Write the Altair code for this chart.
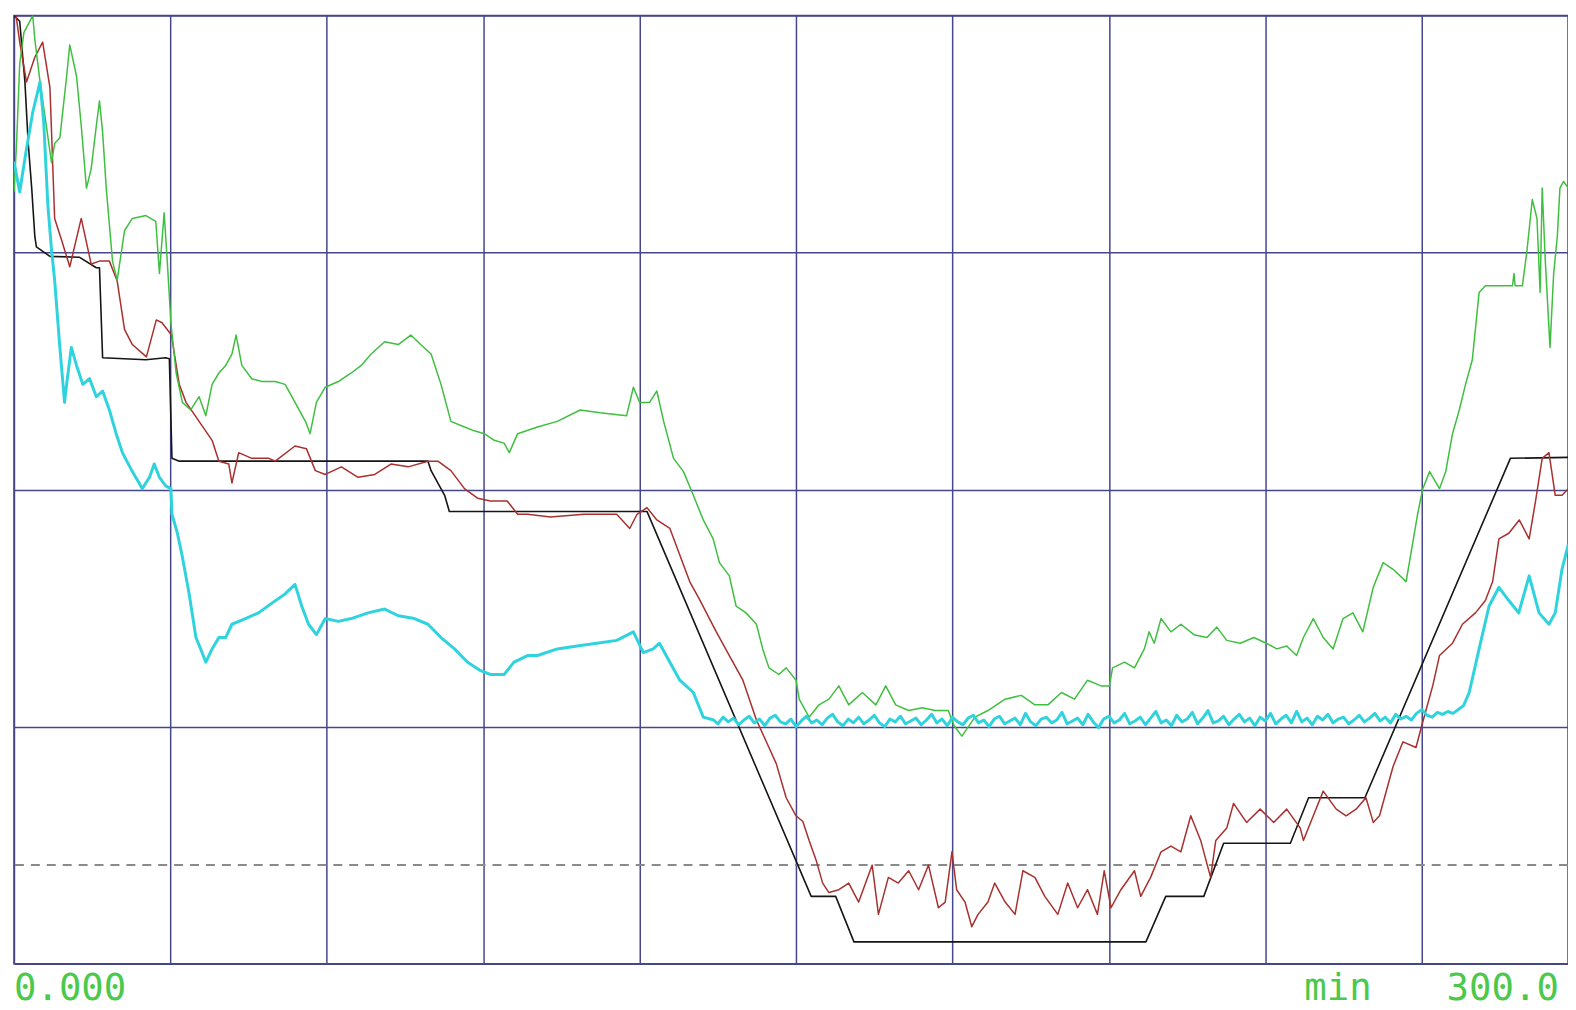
import altair as alt
import pandas as pd

# time axis in minutes (0 .. 300, visible part ends near 298), value axis 0..100 (4 divisions)
X_MAX = 298.05
x_grid = [0, 30, 60, 90, 120, 150, 180, 210, 240, 270]
y_grid = [0, 25, 50, 75, 100]
dash_level = [10.4]

black_t = [0, 1.1, 1.7, 2.1, 2.7, 3.4, 4.0, 4.3, 6.9, 12.6, 15.8, 16.4, 17.0, 25.3, 29.1, 29.8, 30.3, 31.7,
           79.4, 80.0, 82.6, 83.5, 121.4, 152.9, 157.6, 161.1, 217.1, 220.9, 228.2, 232.0, 244.8, 248.3,
           259.1, 287.0, 298.1]
black_v = [100, 99.4, 95.5, 93.0, 86.8, 81.8, 76.7, 75.6, 74.6, 74.5, 73.4, 73.4, 63.9, 63.7, 63.9, 63.8, 53.3, 53.0,
           53.0, 52.0, 49.4, 47.7, 47.7, 7.1, 7.1, 2.3, 2.3, 7.1, 7.1, 12.7, 12.7, 17.5,
           17.5, 53.3, 53.4]

red_t = [0.4, 1.1, 2.4, 4.0, 5.5, 6.9, 7.8, 9.2, 10.7, 12.9,
         14.8, 16.4, 18.3, 19.8, 21.2, 22.7, 25.4, 27.3, 28.4, 30.2,
         31.7, 33.0, 35.5, 38.0, 39.3, 41.2, 41.8, 43.1, 45.6, 48.9,
         50.1, 53.9, 56.1, 57.8, 59.7, 62.8, 66.0, 69.2, 72.3, 75.6,
         79.4, 81.3, 83.8, 86.4, 88.9, 91.4, 94.6, 96.6, 98.5, 102.9,
         109.3, 115.6, 118.1, 119.5, 121.4, 123.3, 125.8, 129.6, 131.5, 134.7,
         137.2, 139.8, 142.4, 144.8, 146.2, 148.1, 150.0, 151.3, 152.5, 153.8,
         155.1, 156.3, 158.2, 160.1, 162.0, 164.6, 165.8, 167.7, 169.6, 171.6,
         173.5, 175.4, 177.3, 178.6, 179.9, 180.8, 182.4, 183.7, 184.9, 186.8,
         188.1, 190.1, 192.0, 193.5, 195.8, 197.7, 200.2, 202.1, 204.0, 205.9,
         207.8, 209.1, 210.4, 212.3, 214.9, 216.1, 218.0, 220.0, 221.9, 223.8,
         225.7, 227.6, 229.5, 230.5, 232.6, 233.9, 236.4, 239.0, 241.6, 244.1,
         246.7, 247.3, 249.2, 251.1, 253.6, 255.5, 257.4, 259.3, 260.7, 261.9,
         264.5, 266.4, 268.9, 269.8, 270.8, 272.1, 273.4, 275.9, 277.8, 280.3,
         282.2, 283.6, 284.8, 286.7, 288.7, 290.6, 291.8, 293.1, 294.4, 295.6,
         296.9, 298.1]
red_v = [100.0, 97.2, 93.0, 95.6, 97.2, 92.4, 78.6, 76.2, 73.5, 78.6,
         73.8, 74.1, 74.1, 72.0, 66.9, 65.3, 64.0, 67.9, 67.6, 66.3,
         61.1, 59.2, 57.2, 55.2, 53.0, 52.7, 50.7, 53.9, 53.3, 53.3,
         53.0, 54.6, 54.3, 52.0, 51.6, 52.4, 51.3, 51.6, 52.7, 52.4,
         53.0, 53.0, 52.0, 50.1, 49.1, 48.8, 48.8, 47.4, 47.4, 47.1,
         47.4, 47.4, 45.9, 47.4, 48.1, 46.8, 45.9, 40.3, 38.4, 35.0,
         32.5, 29.9, 25.7, 22.8, 21.1, 17.5, 15.6, 15.0, 13.0, 11.0,
         8.5, 7.5, 7.8, 8.5, 6.5, 10.4, 5.2, 9.1, 8.5, 9.8,
         7.8, 10.4, 5.9, 6.5, 11.8, 7.8, 6.5, 3.9, 5.2, 6.5,
         8.5, 6.5, 5.2, 9.8, 9.1, 7.1, 5.2, 8.5, 5.9, 7.8,
         5.2, 9.8, 5.9, 7.8, 9.8, 7.1, 9.1, 11.8, 12.4, 11.8,
         15.6, 13.0, 9.1, 13.0, 14.3, 16.9, 14.9, 16.3, 14.9, 16.3,
         14.3, 13.0, 15.6, 18.2, 16.3, 15.6, 16.3, 17.5, 14.9, 15.6,
         20.8, 23.4, 22.8, 24.7, 26.7, 29.3, 32.5, 33.8, 35.8, 37.0,
         38.3, 40.3, 44.8, 45.4, 46.8, 44.8, 48.7, 53.3, 53.9, 49.4,
         49.4, 50.1]

green_t = [0, 0.5, 1.1, 1.9, 3.6, 4.0, 5.0, 6.2, 7.2, 7.8,
           8.8, 10.1, 10.7, 12.0, 12.9, 13.9, 14.8, 15.8, 16.4, 17.0,
           17.7, 18.9, 19.8, 21.2, 22.7, 25.3, 27.2, 27.9, 28.8, 29.4,
           30.1, 31.1, 32.3, 33.9, 35.5, 36.8, 38.0, 39.3, 40.6, 41.8,
           42.6, 43.7, 45.6, 47.5, 50.1, 52.0, 53.9, 55.9, 56.8, 58.0,
           59.7, 62.2, 64.7, 66.6, 68.5, 71.1, 73.7, 76.1, 78.0, 80.0,
           81.9, 83.8, 86.4, 88.3, 90.2, 92.1, 94.0, 95.0, 96.6, 100.4,
           104.2, 108.6, 112.4, 117.5, 118.8, 120.0, 121.9, 123.3, 124.6, 126.5,
           128.4, 130.3, 132.2, 134.1, 135.3, 137.2, 138.5, 140.4, 142.4, 143.6,
           144.8, 146.7, 148.1, 150.0, 150.6, 152.5, 154.4, 156.3, 158.2, 160.1,
           162.7, 165.3, 167.2, 169.1, 171.6, 174.2, 176.7, 179.2, 180.3, 181.8,
           184.3, 186.8, 190.1, 193.2, 195.8, 198.3, 200.9, 203.4, 205.9, 208.5,
           210.1, 210.7, 213.0, 214.9, 216.8, 217.7, 218.7, 220.0, 221.9, 223.8,
           226.3, 228.8, 230.7, 232.6, 235.2, 237.8, 240.2, 242.2, 244.1, 246.0,
           247.3, 249.2, 251.1, 253.0, 254.9, 256.8, 258.7, 260.7, 262.6, 264.5,
           267.0, 269.2, 270.2, 271.5, 273.4, 274.6, 275.9, 277.2, 278.4, 279.7,
           281.0, 282.2, 287.4, 287.7, 287.9, 289.3, 290.2, 291.2, 292.1, 292.7,
           293.1, 293.7, 294.6, 295.3, 296.0, 296.5, 297.2, 298.1]
green_v = [81.4, 86.5, 94.9, 98.2, 100.0, 97.5, 93.0, 88.4, 84.5, 86.5,
           87.1, 93.6, 96.9, 93.6, 88.4, 81.8, 83.8, 88.4, 91.0, 87.7,
           81.8, 74.1, 72.1, 77.3, 78.6, 78.9, 78.3, 72.8, 79.2, 74.1,
           67.6, 62.3, 59.2, 58.4, 59.8, 57.8, 61.1, 62.3, 63.1, 64.3,
           66.3, 63.1, 61.7, 61.4, 61.4, 61.1, 59.2, 57.2, 55.9, 59.2,
           60.8, 61.4, 62.3, 63.1, 64.3, 65.6, 65.3, 66.3, 65.3, 64.3,
           61.1, 57.2, 56.6, 56.2, 55.9, 55.2, 54.9, 53.9, 55.9, 56.6,
           57.2, 58.4, 58.1, 57.8, 60.8, 59.2, 59.2, 60.4, 57.2, 53.3,
           51.9, 49.4, 46.8, 44.8, 42.3, 40.9, 37.7, 37.0, 35.8, 33.2,
           31.2, 30.5, 31.2, 29.9, 27.9, 26.0, 27.3, 27.9, 29.3, 27.3,
           28.6, 27.3, 29.3, 27.3, 26.7, 27.0, 26.7, 26.7, 25.1, 24.0,
           26.0, 26.7, 27.9, 28.3, 27.3, 27.3, 28.6, 27.9, 29.9, 29.3,
           29.3, 31.2, 31.8, 31.2, 33.2, 35.0, 33.8, 36.4, 35.0, 35.8,
           34.7, 34.4, 35.5, 34.1, 33.8, 34.4, 33.8, 33.2, 33.5, 32.5,
           34.4, 36.4, 34.4, 33.2, 36.4, 37.0, 35.0, 39.7, 42.3, 41.6,
           40.3, 47.4, 50.1, 51.9, 50.1, 51.9, 55.9, 58.4, 61.1, 63.7,
           70.8, 71.5, 71.5, 72.8, 71.5, 71.5, 75.3, 80.6, 78.6, 70.8,
           81.8, 74.1, 65.0, 72.8, 76.7, 81.8, 82.5, 81.8]

cyan_head_t = [0, 1.1, 2.3, 3.6, 5.0, 5.7, 6.5, 7.2, 7.8, 8.8,
               9.7, 10.1, 11.0, 12.0, 13.2, 14.5, 15.8, 17.0, 18.3, 19.6,
               20.8, 22.7, 24.0, 24.6, 26.0, 26.9, 27.9, 29.1, 30.1, 30.3,
               31.3, 32.3, 33.6, 34.9, 35.8, 36.8, 38.0, 39.3, 40.6, 41.8,
               44.4, 46.9, 49.4, 52.0, 53.9, 55.2, 56.5, 58.0, 59.7, 62.2,
               64.7, 67.9, 71.1, 73.7, 76.8, 79.4, 81.9, 84.5, 87.0, 89.5,
               91.4, 94.0, 95.9, 98.5, 100.4, 104.2, 108.0, 111.8, 115.6, 118.8,
               120.7, 122.6, 123.8, 125.8, 127.7, 130.3, 132.2, 134.2]
cyan_head_v = [84.6, 81.4, 85.6, 89.8, 93.0, 88.8, 80.0, 75.3, 72.1, 65.0,
               59.2, 61.1, 65.0, 63.1, 61.1, 61.7, 59.8, 60.4, 58.4, 55.9,
               53.9, 51.9, 50.7, 50.1, 51.3, 52.7, 51.3, 50.4, 50.1, 47.4,
               45.5, 42.9, 39.0, 34.4, 33.2, 31.8, 33.2, 34.4, 34.4, 35.8,
               36.4, 37.0, 38.0, 39.0, 40.0, 37.7, 35.8, 34.7, 36.4, 36.1,
               36.4, 37.0, 37.4, 36.7, 36.4, 35.8, 34.4, 33.2, 31.8, 30.9,
               30.5, 30.5, 31.8, 32.5, 32.5, 33.2, 33.5, 33.8, 34.1, 35.0,
               32.8, 33.2, 33.8, 31.8, 29.9, 28.6, 26.0, 25.7]
# flat, noisy part sampled once a minute from 135 to 276 min
cyan_flat_t = list(range(135, 277))
cyan_flat_v = [25.3, 26.0, 25.5, 25.9, 25.2, 25.7, 26.1, 25.4, 25.8, 25.1,
               25.9, 26.2, 25.5, 25.3, 25.8, 25.0, 25.6, 26.1, 25.4, 25.7,
               25.2, 25.9, 26.3, 25.5, 25.1, 25.8, 25.4, 26.0, 25.3, 25.7,
               26.2, 25.4, 25.0, 25.8, 25.5, 26.1, 25.3, 25.6, 25.9, 25.2,
               25.7, 26.3, 25.4, 25.8, 25.1, 26.0, 25.5, 25.2, 25.9, 26.2,
               25.4, 25.7, 25.0, 25.8, 26.1, 25.3, 25.6, 25.9, 25.2, 26.4,
               25.5, 25.1, 25.8, 26.0, 25.4, 25.7, 26.5, 25.3, 25.6, 25.9,
               25.2, 26.3, 25.5, 24.9, 25.8, 26.1, 25.4, 25.7, 26.4, 25.3,
               25.6, 26.0, 25.2, 25.9, 26.6, 25.4, 25.7, 25.1, 26.2, 25.5,
               25.8, 26.5, 25.3, 25.9, 26.7, 25.4, 25.6, 26.1, 25.2, 25.8,
               26.3, 25.5, 25.9, 25.1, 26.0, 25.6, 26.4, 25.3, 25.8, 26.2,
               25.4, 26.6, 25.5, 25.9, 25.2, 26.1, 25.7, 26.3, 25.4, 25.8,
               26.0, 25.3, 25.7, 26.2, 25.5, 25.9, 26.4, 25.6, 26.0, 25.4,
               26.3, 25.8, 26.1, 25.7, 26.4, 26.8, 26.2, 26.0, 26.5, 26.3,
               26.6, 26.4]
cyan_tail_t = [278.0, 279.1, 281.0, 282.9, 284.8, 286.7, 288.6, 290.6, 292.5, 294.4, 295.6, 296.9, 298.1]
cyan_tail_v = [27.2, 28.6, 33.2, 37.7, 39.7, 38.3, 37.0, 40.9, 37.0, 35.8, 37.0, 41.6, 44.2]
cyan_t = cyan_head_t + cyan_flat_t + cyan_tail_t
cyan_v = cyan_head_v + cyan_flat_v + cyan_tail_v

series = [
    ("black", black_t, black_v),
    ("red", red_t, red_v),
    ("green", green_t, green_v),
    ("cyan", cyan_t, cyan_v),
]
rows = []
for name, ts, vs in series:
    assert len(ts) == len(vs), name
    for i, (t, v) in enumerate(zip(ts, vs)):
        rows.append({"series": name, "t": t, "v": v, "i": i})
df = pd.DataFrame(rows)

GRID = "#46468c"
x_enc = alt.X("t:Q", scale=alt.Scale(domain=[0, X_MAX], nice=False, zero=False),
              axis=alt.Axis(values=x_grid, grid=True, gridColor=GRID, gridWidth=1.5, gridOpacity=1,
                            labels=False, ticks=False, domain=False, title=None))
y_enc = alt.Y("v:Q", scale=alt.Scale(domain=[0, 100], nice=False, zero=False),
              axis=alt.Axis(values=y_grid, grid=True, gridColor=GRID, gridWidth=1.5, gridOpacity=1,
                            labels=False, ticks=False, domain=False, title=None))

styles = {
    "black": ("#151515", 1.6),
    "red": ("#a8302e", 1.5),
    "green": ("#3fbf3f", 1.5),
    "cyan": ("#2fd3dd", 3.0),
}

dash = alt.Chart(pd.DataFrame({"v": dash_level})).mark_rule(
    color="#8a8a8a", strokeDash=[9, 7], strokeWidth=2
).encode(y=y_enc)

layers = [dash]
for name, _, _ in series:
    color, width = styles[name]
    layers.append(
        alt.Chart(df).transform_filter(alt.datum.series == name)
        .mark_line(color=color, strokeWidth=width, clip=True, strokeJoin="round")
        .encode(x=x_enc, y=y_enc, order="i:Q")
    )

label_font = dict(font="DejaVu Sans Mono", fontSize=37.5, color="#4cc94c", align="left", baseline="alphabetic")
one = pd.DataFrame({"k": [0]})
t0 = alt.Chart(one).mark_text(text="0.000", **label_font).encode(x=alt.value(0), y=alt.value(990))
tmin = alt.Chart(one).mark_text(text="min", **label_font).encode(x=alt.value(1297), y=alt.value(990))
t300 = alt.Chart(one).mark_text(text="300.0", **label_font).encode(x=alt.value(1440), y=alt.value(990))
layers += [t0, tmin, t300]

chart = alt.layer(*layers).properties(
    width=1562, height=953,
    padding={"left": 6, "top": 5, "right": 0, "bottom": 50},
    autosize=alt.AutoSizeParams(type="none"),
).configure(background="white").configure_view(stroke=GRID, strokeWidth=1.5)

chart.save("out.html", embed_options={"renderer": "svg", "actions": False})
